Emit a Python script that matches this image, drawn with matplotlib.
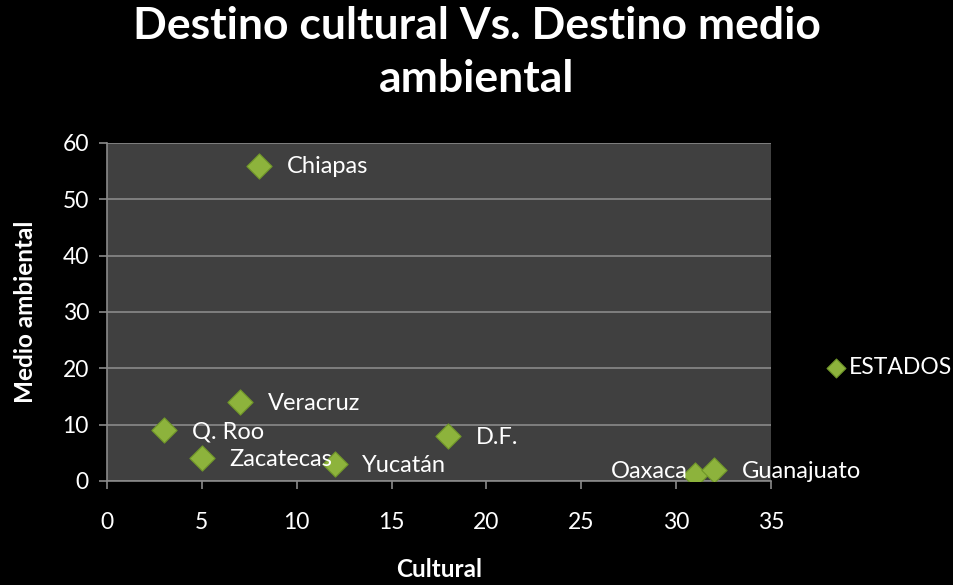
import matplotlib
matplotlib.use("Agg")
from matplotlib import pyplot as plt

# data
estados = ["Chiapas", "Veracruz", "Q. Roo", "Zacatecas", "Yucatán", "D.F.", "Oaxaca", "Guanajuato"]
cultural = [8, 7, 3, 5, 12, 18, 31, 32]
medio_ambiental = [56, 14, 9, 4, 3, 8, 1, 2]
xticks = [0, 5, 10, 15, 20, 25, 30, 35]
yticks = [0, 10, 20, 30, 40, 50, 60]

plt.rcParams['font.family'] = ['Lato', 'DejaVu Sans']

fig = plt.figure(figsize=(9.54, 5.85), dpi=100, facecolor='black')
ax = fig.add_axes([0.1122, 0.1778, 0.6958, 0.5778])
ax.set_facecolor('#404040')

ax.scatter(cultural, medio_ambiental, marker='D', s=165, color='#8db33c',
           edgecolors='#6f9629', linewidths=0.8, zorder=3, label='ESTADOS')

for name, x, y in zip(estados, cultural, medio_ambiental):
    if name == "Oaxaca":
        ax.annotate(name, (x, y), xytext=(-5, 3), textcoords='offset points',
                    ha='right', va='center', color='white', fontsize=17, zorder=4)
    else:
        ax.annotate(name, (x, y), xytext=(20, -1), textcoords='offset points',
                    ha='left', va='center', color='white', fontsize=17, zorder=4)

ax.set_xlim(0, 35)
ax.set_ylim(0, 60)
ax.set_xticks(xticks)
ax.set_yticks(yticks)
ax.grid(axis='y', color='#8a8a8a', linewidth=1.2)
ax.set_axisbelow(True)
for side in ['top', 'right']:
    ax.spines[side].set_visible(False)
for side in ['left', 'bottom']:
    ax.spines[side].set_color('#8a8a8a')
    ax.spines[side].set_linewidth(1.2)
ax.tick_params(colors='white', labelsize=16.5, length=6, width=1.2)
ax.tick_params(axis='x', pad=16)
ax.tick_params(axis='y', pad=7)
ax.tick_params(color='#8a8a8a')

ax.set_xlabel('Cultural', color='white', fontsize=17.5, fontweight='bold', labelpad=18)
ax.set_ylabel('Medio ambiental', color='white', fontsize=17.5, fontweight='bold', labelpad=18)

fig.suptitle('Destino cultural Vs. Destino medio\nambiental', color='white',
             fontsize=32, fontweight='bold', y=0.99, linespacing=1.4)

leg = fig.legend(loc='center right', bbox_to_anchor=(1.0, 0.371), frameon=False,
                 fontsize=16.5, labelcolor='white', handletextpad=0.05,
                 handlelength=1.0, borderpad=0.1, borderaxespad=0.0, markerscale=0.75)

fig.savefig('out.png', dpi=100, facecolor='black')
